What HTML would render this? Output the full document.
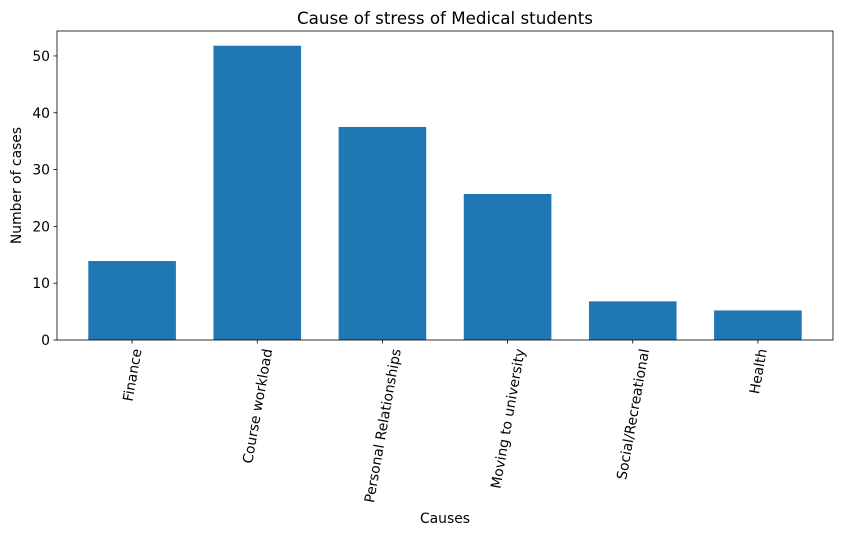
<!DOCTYPE html>
<html><head><meta charset="utf-8"><style>
body{margin:0;background:#fff;}
svg text{font-family:"DejaVu Sans","Liberation Sans",sans-serif;fill:#000;}
</style></head><body>
<svg id="chart" width="841" height="535" xmlns="http://www.w3.org/2000/svg"></svg>
<script>
const categories=["Finance","Course workload","Personal Relationships","Moving to university","Social/Recreational","Health"];
const values=[13.9,51.8,37.5,25.7,6.8,5.2];
const yTicks=[0,10,20,30,40,50];
const svg=document.getElementById('chart');
const NS="http://www.w3.org/2000/svg";
const L=57,R=833,T=31,B=340;
const FS=13.9;
const yMax=Math.max(...values)*1.05;
const y=v=>B-(v/yMax)*(B-T);
const n=categories.length;
const xmin=-0.6,xmax=n-1+0.6;
const x=i=>L+(i-xmin)/(xmax-xmin)*(R-L);
const bw=0.7*(R-L)/(xmax-xmin);
function mk(tag,attrs,parent){const e=document.createElementNS(NS,tag);for(const k in attrs)e.setAttribute(k,attrs[k]);(parent||svg).appendChild(e);return e;}
values.forEach((v,i)=>{
 const r=mk('rect',{x:x(i)-bw/2,y:y(v),width:bw,height:B-y(v),fill:'#1f77b4'});
 
 
 mk('line',{x1:x(i),x2:x(i),y1:B,y2:B+3.5,stroke:'#000','stroke-width':0.8});
 const t=mk('text',{x:0,y:0,'font-size':FS,'text-anchor':'end','dominant-baseline':'middle'});
 t.textContent=categories[i];
 
 
 const len=t.getComputedTextLength();
 const cx=x(i)+len*Math.cos(80*Math.PI/180)/2+1, cy=B+9;
 t.setAttribute('x',cx);t.setAttribute('y',cy);
 t.setAttribute('transform',`rotate(-80 ${cx} ${cy})`);
});
yTicks.forEach(v=>{
 mk('line',{x1:L-3.5,x2:L,y1:y(v),y2:y(v),stroke:'#000','stroke-width':0.8});
 const t=mk('text',{x:L-7,y:y(v)+5,'font-size':FS,'text-anchor':'end'});
 t.textContent=v;
 
 
});
const fr=mk('rect',{x:L,y:T,width:R-L,height:B-T,fill:'none',stroke:'#000','stroke-width':0.8});


const title=mk('text',{x:(L+R)/2,y:24,'font-size':16.7,'text-anchor':'middle'});
title.textContent='Cause of stress of Medical students';


const xt=mk('text',{x:(L+R)/2,y:523,'font-size':FS,'text-anchor':'middle'});
xt.textContent='Causes';


const yt=mk('text',{x:21,y:(T+B)/2,'font-size':FS,'text-anchor':'middle',transform:`rotate(-90 21 ${(T+B)/2})`});
yt.textContent='Number of cases';


</script>
</body></html>
